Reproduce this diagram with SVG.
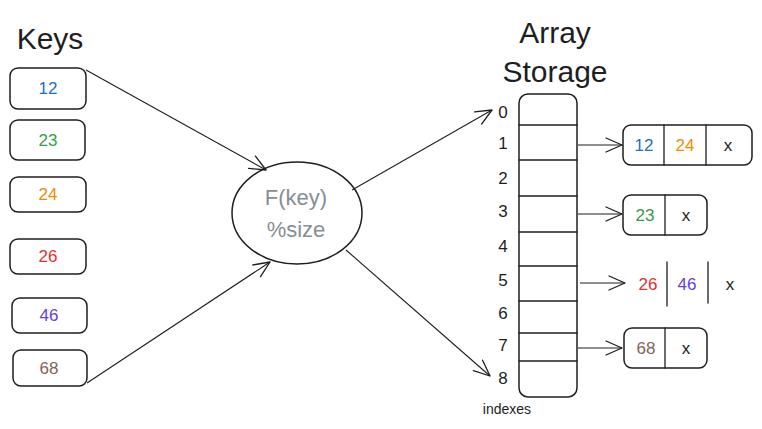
<svg xmlns="http://www.w3.org/2000/svg" width="762" height="429" viewBox="0 0 762 429">
<defs>
<marker id="ah" viewBox="0 0 20 20" refX="18" refY="10" markerWidth="20" markerHeight="20" markerUnits="userSpaceOnUse" orient="auto">
<polyline points="2,3 18,10 2,17" fill="none" stroke="#1e1e1e" stroke-width="1.3" stroke-linecap="round" stroke-linejoin="round"/>
</marker>
<style>
.box{fill:#fff;stroke:#1e1e1e;stroke-width:1.5}
.ln{fill:none;stroke:#1e1e1e;stroke-width:1.3;stroke-linecap:round}
.con{fill:none;stroke:#1e1e1e;stroke-width:1.1;marker-end:url(#ah)}
text{font-family:"Liberation Sans","DejaVu Sans",sans-serif;text-anchor:middle;dominant-baseline:central}
.t{font-size:30px;fill:#1e1e1e}
.k{font-size:17px}
.i{font-size:17px;fill:#1e1e1e}
.x{font-size:17px;fill:#1e1e1e}
.b{fill:#1971c2}.g{fill:#2f9e44}.o{fill:#f08c00}.r{fill:#e03131}.p{fill:#6741d9}.br{fill:#846358}
</style>
</defs>
<rect width="762" height="429" fill="#fff"/>
<text class="t" x="50" y="38">Keys</text>
<g id="key12"><rect class="box" x="10" y="68" width="76" height="41" rx="8"/><text class="k b" x="48" y="88">12</text></g>
<g id="key23"><rect class="box" x="10" y="120" width="75" height="40" rx="8"/><text class="k g" x="48" y="140">23</text></g>
<g id="key24"><rect class="box" x="10" y="177" width="76" height="35" rx="8"/><text class="k o" x="48" y="194">24</text></g>
<g id="key26"><rect class="box" x="10" y="239" width="76" height="35" rx="8"/><text class="k r" x="48" y="256">26</text></g>
<g id="key46"><rect class="box" x="12" y="298" width="75" height="35" rx="8"/><text class="k p" x="49" y="315">46</text></g>
<g id="key68"><rect class="box" x="13" y="350" width="74" height="36" rx="8"/><text class="k br" x="49" y="368">68</text></g>
<g id="hash"><ellipse class="box" cx="297" cy="213" rx="65" ry="51"/><text x="296" y="197" style="font-size:22px;fill:#868e96">F(key)</text><text x="296" y="229" style="font-size:22px;fill:#868e96">%size</text></g>
<text class="t" x="555" y="32">Array</text>
<text class="t" x="555" y="71">Storage</text>
<g id="array">
<rect class="box" x="519" y="94" width="58" height="303" rx="9"/>
<path class="ln" d="M519 125H577M519 160H577M519 196H577M519 232H577M519 266H577M519 301H577M519 333H577M519 361H577"/>
</g>
<g id="indexes">
<text class="i" x="503" y="112">0</text><text class="i" x="503" y="143">1</text><text class="i" x="503" y="178">2</text><text class="i" x="503" y="211">3</text><text class="i" x="503" y="246">4</text><text class="i" x="503" y="280">5</text><text class="i" x="503" y="313">6</text><text class="i" x="503" y="345">7</text><text class="i" x="503" y="378">8</text>
<text x="507" y="409" style="font-size:14px;fill:#1e1e1e">indexes</text>
</g>
<g id="list1"><rect class="box" x="623" y="125" width="129" height="40" rx="8"/><path class="ln" d="M664 125V165M706 125V165"/><text class="k b" x="644" y="145">12</text><text class="k o" x="685" y="145">24</text><text class="x" x="728" y="145">x</text></g>
<g id="list3"><rect class="box" x="623" y="195" width="84" height="40" rx="8"/><path class="ln" d="M665 195V235"/><text class="k g" x="645" y="215">23</text><text class="x" x="686" y="215">x</text></g>
<g id="list5"><path class="ln" d="M667 262V306M708 262V303"/><text class="k r" x="648" y="284">26</text><text class="k p" x="687" y="284">46</text><text class="x" x="730" y="284">x</text></g>
<g id="list7"><rect class="box" x="624" y="328" width="83" height="40" rx="8"/><path class="ln" d="M665 328V368"/><text class="k br" x="646" y="348">68</text><text class="x" x="686" y="348">x</text></g>
<g id="connectors">
<line class="con" x1="86" y1="70" x2="266" y2="170"/>
<line class="con" x1="87" y1="383" x2="270" y2="262"/>
<line class="con" x1="352" y1="190" x2="492" y2="110"/>
<line class="con" x1="346" y1="250" x2="490" y2="376"/>
<line class="con" x1="578" y1="145" x2="622" y2="145"/>
<line class="con" x1="578" y1="214" x2="622" y2="214"/>
<line class="con" x1="580" y1="283" x2="625" y2="283"/>
<line class="con" x1="578" y1="348" x2="622" y2="348"/>
</g>
</svg>
